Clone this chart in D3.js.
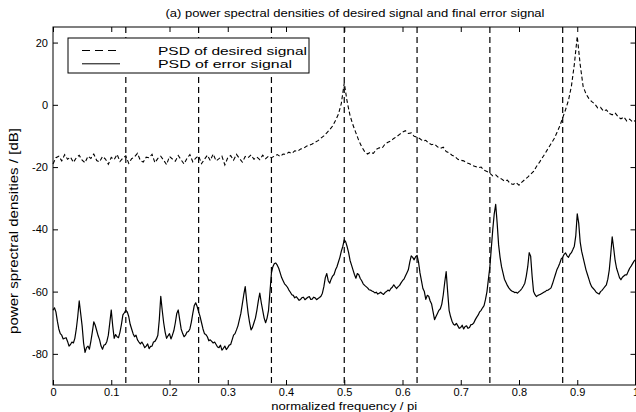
<!DOCTYPE html>
<html><head><meta charset="utf-8">
<script src="https://cdn.jsdelivr.net/npm/d3@7"></script>
<style>body{margin:0;background:#fff} svg text{font-family:"Liberation Sans",Arial,Helvetica,sans-serif;fill:#000}</style>
</head><body><svg id="c" width="636" height="412"></svg>
<script>
// frequency grid steps (normalized frequency / pi)
const desiredStep = 0.005;
const errorStep = 0.0025;
// PSD of desired signal [dB], grid 0..1 step 0.005
const desiredDb = [
-19,-17,-16.5,-18,-16,-17.5,-16.8,-18.5,-17,-16.2,
-17.8,-18.6,-16.5,-17.2,-15.8,-17.9,-18.3,-16.6,-17.4,-19.1,
-16.9,-17.6,-15.9,-18.2,-17.1,-16.4,-18.8,-17.3,-16.7,-15.6,
-17.9,-18.4,-16.8,-17.0,-15.9,-18.6,-17.2,-16.5,-17.8,-19.2,
-16.6,-17.4,-18.1,-16.3,-17.7,-19.0,-17.2,-16.0,-18.3,-17.1,
-16.4,-18.9,-17.5,-16.2,-17.9,-15.8,-18.0,-17.3,-16.5,-19.3,
-17.0,-16.3,-17.8,-15.9,-17.2,-18.4,-16.6,-17.0,-16.1,-17.5,
-16.8,-17.6,-16.2,-17.3,-16.5,-17.0,-16.5,-16.0,-16.6,-15.8,
-15.9,-15.2,-15.6,-14.8,-14.9,-14.2,-14.0,-13.3,-13.0,-12.6,
-12.0,-11.5,-10.7,-10.0,-9.0,-8.0,-6.8,-5.0,-3.0,0.5,
7.0,1.0,-3.5,-6.5,-9.0,-11.5,-13.5,-15.0,-15.8,-15.2,
-15.6,-14.3,-13.8,-13.9,-12.6,-12.0,-11.6,-10.8,-10.2,-9.5,
-8.8,-8.3,-9.2,-9.0,-10.1,-10.4,-10.9,-11.6,-11.4,-12.3,
-12.8,-12.6,-13.5,-14.0,-13.6,-15.0,-15.4,-16.2,-16.6,-17.5,
-17.8,-18.0,-18.6,-18.9,-19.5,-19.8,-20.2,-20.0,-21.0,-21.4,
-22.0,-22.8,-22.5,-23.4,-23.8,-24.5,-24.2,-25.3,-25.6,-25.0,
-25.8,-24.8,-24.0,-23.2,-22.3,-21.4,-19.8,-18.5,-17.0,-15.6,
-14.0,-12.5,-11.0,-9.0,-6.8,-4.2,-1.5,1.5,6.0,13.0,
22.0,13.0,6.0,3.5,2.0,1.0,0.3,-1.0,-0.8,-2.0,
-1.6,-2.8,-3.2,-2.6,-3.8,-4.5,-3.9,-5.2,-4.6,-5.5,
-5.0
];
// PSD of error signal [dB], grid 0..1 step 0.0025
const errorDb = [
-66,-65.2,-66.5,-69.5,-72,-73.5,-74,-75.2,-75,-74.8,-76,-77.5,-77,-76.2,-76.5,-75,-72,-68,-63,-67,
-71,-76.5,-79.5,-78,-77.5,-78.5,-76,-73,-69.7,-70.8,-72.5,-74.2,-75.5,-77.5,-78.5,-77.2,-77,-76,-74,-70,
-65.9,-71,-75,-73.8,-74.5,-74.8,-73,-70.5,-67.5,-66.8,-66,-66.5,-68,-70.5,-72,-73.5,-74.5,-74,-75.5,-76.2,
-76.8,-76.2,-77,-78,-77.5,-76.8,-78.3,-77.6,-77.5,-76.2,-76,-75.2,-74,-69,-61.5,-66,-70,-73,-75,-74.2,
-73.5,-75.2,-74,-72.5,-70,-67,-65.9,-69,-72,-73.4,-74.5,-74,-73,-72.8,-72,-69.8,-67,-64.5,-63.6,-64.8,
-66.5,-68,-70,-72,-73.5,-73.8,-74.5,-75.8,-75.5,-76,-76.5,-76.2,-77,-77.8,-78,-77.2,-78.8,-78.2,-77.5,-78.6,
-78,-77.2,-77,-75.5,-74,-73.5,-72.3,-71,-69,-67,-64,-61,-58.4,-63,-67,-70,-72.3,-71.5,-70,-68.5,
-66,-63,-60.5,-63.5,-66,-68.5,-70,-68.5,-66,-60,-54,-52,-51,-50.8,-51.5,-52.5,-54,-55.5,-56.5,-57.5,
-58,-58.6,-59.5,-60.2,-61,-61.2,-62,-61.6,-62.2,-62.8,-62.5,-61.9,-61.8,-62.6,-62.2,-61.8,-61.6,-62.5,-62.4,-61.8,
-62,-62.6,-62.2,-61.9,-61.5,-60.5,-58.4,-55.5,-54.2,-56.5,-57.3,-56,-55,-54.5,-53,-52,-50.5,-49,-47,-45.5,
-43.4,-44,-45.6,-47.5,-50,-51.5,-53,-54.5,-55.7,-54.2,-54.6,-55.8,-56.5,-57.5,-58,-58.4,-58.8,-59.4,-59.5,-59.8,
-60,-60.4,-60.2,-60.8,-60.5,-60.2,-60.6,-60.9,-60.3,-60,-59.5,-59.8,-59,-58.6,-57.8,-58.5,-59,-58.4,-58,-57.2,
-56.5,-56,-55,-54,-53,-50.5,-48.5,-49,-49.8,-48.8,-48.4,-50.5,-54,-56.5,-59,-60,-62.5,-61.2,-61.5,-63,
-64,-66.5,-69,-68,-67,-66,-65.5,-64,-61,-57,-53.6,-60,-66,-68,-69.5,-70.5,-70.8,-70.2,-71,-71.8,
-71.5,-70.8,-72,-71.2,-71,-71.8,-71.5,-70.6,-70.5,-70,-69,-68.2,-67.5,-66.5,-66,-65.2,-64.5,-62.5,-60,-56,
-52,-46,-40,-35,-32,-38,-45,-49,-52,-54,-56,-57,-58,-58.8,-59.4,-59.8,-60,-60.3,-60.2,-60.5,
-60,-59.6,-59,-58.2,-57.3,-55,-52,-47.5,-48.6,-55,-60,-61,-61.6,-61.2,-61,-60.8,-60.5,-60.2,-60,-59.6,
-59.5,-59.2,-58.8,-57.5,-56,-54.5,-53,-52,-50.9,-49.5,-49,-48,-47.6,-48.5,-49,-48,-47.5,-46.5,-45.4,-42,
-35,-38,-44,-47,-49,-51,-53,-54.5,-56,-57.5,-58.5,-59,-59.5,-60.2,-60.5,-60.8,-60,-59.6,-59,-58.4,
-57.8,-56,-53,-48,-42.4,-46,-50,-52.5,-54,-55.5,-56.2,-55.4,-55,-54.6,-54.6,-53.5,-52.5,-51.8,-51,-50.2,
-49.7
];
const xTicks = [0,0.1,0.2,0.3,0.4,0.5,0.6,0.7,0.8,0.9,1];
const yTicks = [-80,-60,-40,-20,0,20];
const markerFreqs = [0.125,0.25,0.375,0.5,0.625,0.75,0.875];
const legendLabels = ["PSD of desired signal","PSD of error signal"];
const titleText = "(a) power spectral densities of desired signal and final error signal";
const xLabelText = "normalized frequency / pi";
const yLabelText = "power sprectral densities / [dB]";

const svg = d3.select("#c");
const L = 53, R = 635.5, T = 27, B = 385;
const x = d3.scaleLinear().domain([0,1]).range([L,R]);
const y = d3.scaleLinear().domain([-90,25]).range([B,T]);

const g = svg.append("g");
g.selectAll("line.mk").data(markerFreqs).join("line")
  .attr("x1",d=>x(d)).attr("x2",d=>x(d)).attr("y1",T).attr("y2",B)
  .attr("stroke","#000").attr("stroke-width",1.2).attr("stroke-dasharray","6,4");

const lineD = d3.line().x((d,i)=>x(i*desiredStep)).y(d=>y(d));
const lineE = d3.line().x((d,i)=>x(i*errorStep)).y(d=>y(d));
g.append("path").datum(desiredDb).attr("d",lineD).attr("fill","none")
  .attr("stroke","#000").attr("stroke-width",1.1).attr("stroke-dasharray","4,2.5");
g.append("path").datum(errorDb).attr("d",lineE).attr("fill","none")
  .attr("stroke","#000").attr("stroke-width",1.2).attr("stroke-linejoin","round");

const fmt = d=>String(d);
const ax = a=>{a.select(".domain").remove(); a.attr("font-family",null).attr("font-size",null);
  a.selectAll("text").style("font-size","11px"); a.selectAll("line").attr("stroke","#000");};
svg.append("g").attr("transform",`translate(0,${B})`)
  .call(d3.axisBottom(x).tickValues(xTicks).tickFormat(fmt).tickSize(-5).tickPadding(3)).call(ax);
svg.append("g").attr("transform",`translate(0,${T})`)
  .call(d3.axisTop(x).tickValues(xTicks).tickFormat("").tickSize(-5)).call(ax);
svg.append("g").attr("transform",`translate(${L},0)`)
  .call(d3.axisLeft(y).tickValues(yTicks).tickFormat(fmt).tickSize(-5).tickPadding(5)).call(ax);
svg.append("g").attr("transform",`translate(${R},0)`)
  .call(d3.axisRight(y).tickValues(yTicks).tickFormat("").tickSize(-5)).call(ax);
svg.append("rect").attr("x",L).attr("y",T).attr("width",R-L).attr("height",B-T)
  .attr("fill","none").attr("stroke","#000").attr("stroke-width",1);

// legend
const lg = svg.append("g");
lg.append("rect").attr("x",68).attr("y",38).attr("width",241).attr("height",35)
  .attr("fill","#fff").attr("stroke","#000").attr("stroke-width",1);
const rows = [50.5, 63.8];
lg.append("line").attr("x1",82).attr("x2",120).attr("y1",rows[0]).attr("y2",rows[0])
  .attr("stroke","#000").attr("stroke-width",1.2).attr("stroke-dasharray","8,5");
lg.append("line").attr("x1",82).attr("x2",120).attr("y1",rows[1]).attr("y2",rows[1])
  .attr("stroke","#000").attr("stroke-width",1);
lg.selectAll("text").data(legendLabels).join("text")
  .attr("x",158).attr("y",(d,i)=>rows[i]+4.3).style("font-size","11.8px")
  .attr("textLength",(d,i)=>i===0?149:134).attr("lengthAdjust","spacingAndGlyphs").text(d=>d);

// titles
svg.append("text").attr("x",355).attr("y",17).attr("text-anchor","middle").style("font-size","11.5px")
  .attr("textLength",379).attr("lengthAdjust","spacingAndGlyphs").text(titleText);
svg.append("text").attr("x",(L+R)/2).attr("y",410).attr("text-anchor","middle").style("font-size","11.3px")
  .attr("textLength",146).attr("lengthAdjust","spacingAndGlyphs").text(xLabelText);
svg.append("text").attr("transform",`translate(18,231) rotate(-90)`).attr("text-anchor","middle").style("font-size","13px")
  .attr("textLength",206).attr("lengthAdjust","spacingAndGlyphs").text(yLabelText);
</script></body></html>
